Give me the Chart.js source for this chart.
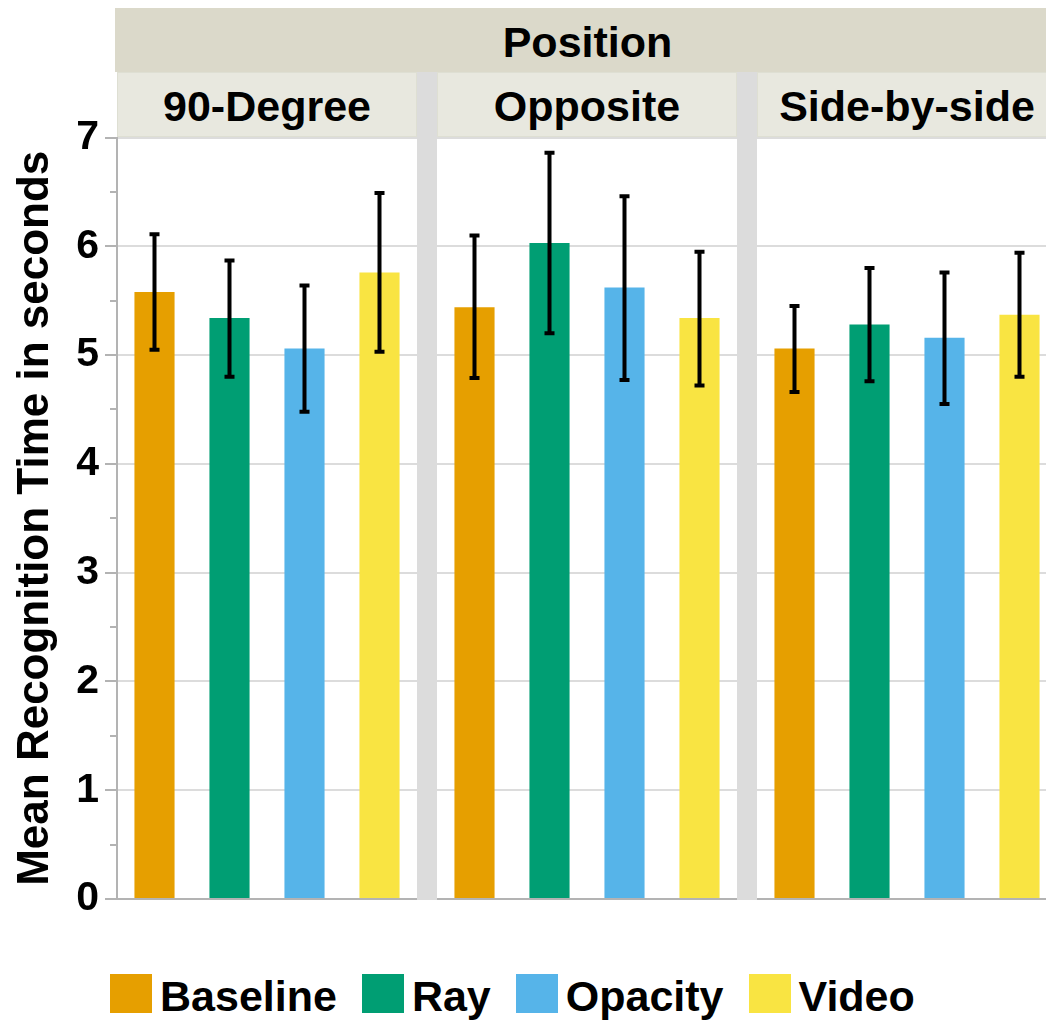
<!DOCTYPE html>
<html>
<head>
<meta charset="utf-8">
<title>Mean Recognition Time by Position</title>
<script src="https://cdn.jsdelivr.net/npm/chart.js@4.4.1/dist/chart.umd.min.js"></script>
<style>
  html, body { margin: 0; padding: 0; background: #ffffff; }
  body {
    width: 1046px; height: 1021px; overflow: hidden; position: relative;
    font-family: "Liberation Sans", Arial, Helvetica, sans-serif;
    font-weight: bold; color: #000;
  }
  .abs { position: absolute; }
  .strip {
    display: flex; align-items: center; justify-content: center;
    font-size: 43px; white-space: nowrap; box-sizing: border-box; padding-top: 4px;
  }
  .strip-outer { left: 115px; top: 8px; width: 945px; height: 64px; background: #dbd9ca; }
  .strip-panel { top: 72px; width: 300px; height: 65px; background: #e8e8df; border: 1px solid #dedfd3; }
  .gap { top: 72px; width: 20px; height: 828px; background: #dcdcdc; }
  canvas { position: absolute; top: 0; z-index: 2; }
  .legend {
    position: absolute; left: 110px; top: 975px; display: flex; align-items: flex-start;
    font-size: 43px; line-height: 43px; z-index: 3;
  }
  .legend .sw { width: 42px; height: 39px; margin-top: -1px; margin-right: 8px; }
  .legend .item { display: flex; align-items: flex-start; margin-right: 25px; }
</style>
</head>
<body>

<div class="abs strip strip-outer" id="outerStrip"></div>
<div id="panelStrips"></div>
<div class="abs gap" style="left:417px"></div>
<div class="abs gap" style="left:737px"></div>

<canvas id="panel0" width="417" height="940" style="left:0px"></canvas>
<canvas id="panel1" width="300" height="940" style="left:437px"></canvas>
<canvas id="panel2" width="300" height="940" style="left:757px"></canvas>

<div class="legend" id="legend"></div>

<script>
// ---- data ----
const facetTitle = 'Position';
const positions = ['90-Degree', 'Opposite', 'Side-by-side'];
const methods = ['Baseline', 'Ray', 'Opacity', 'Video'];

// mean recognition time (s) per position, with error-bar bounds
const baselineMean = [5.58, 5.44, 5.06];
const baselineLow  = [5.05, 4.79, 4.66];
const baselineHigh = [6.11, 6.10, 5.45];

const rayMean = [5.34, 6.03, 5.28];
const rayLow  = [4.80, 5.20, 4.76];
const rayHigh = [5.87, 6.86, 5.80];

const opacityMean = [5.06, 5.62, 5.16];
const opacityLow  = [4.48, 4.77, 4.55];
const opacityHigh = [5.64, 6.46, 5.76];

const videoMean = [5.76, 5.34, 5.37];
const videoLow  = [5.03, 4.72, 4.80];
const videoHigh = [6.49, 5.95, 5.94];

const yTickValues = [0, 1, 2, 3, 4, 5, 6, 7];
const yMinorTickValues = [0.5, 1.5, 2.5, 3.5, 4.5, 5.5, 6.5];
const yTitle = 'Mean Recognition Time in seconds';

// ---- styles ----
const methodColors = ['#E69F00', '#009E73', '#56B4E9', '#F9E442'];
const FONT = "'Liberation Sans', Arial, Helvetica, sans-serif";
const AXIS_GREY = '#b3b3b3';
const GRID_GREY = '#dcdcdc';

const meansBy = [baselineMean, rayMean, opacityMean, videoMean];
const lowsBy  = [baselineLow, rayLow, opacityLow, videoLow];
const highsBy = [baselineHigh, rayHigh, opacityHigh, videoHigh];

// ---- strips and legend ----
document.getElementById('outerStrip').textContent = facetTitle;
const stripHost = document.getElementById('panelStrips');
const stripLeft = [117, 437, 757];
positions.forEach((p, i) => {
  const d = document.createElement('div');
  d.className = 'abs strip strip-panel';
  d.style.left = stripLeft[i] + 'px';
  d.textContent = p;
  stripHost.appendChild(d);
});
const legendHost = document.getElementById('legend');
methods.forEach((m, i) => {
  const item = document.createElement('div');
  item.className = 'item';
  const sw = document.createElement('div');
  sw.className = 'sw';
  sw.style.background = methodColors[i];
  const t = document.createElement('span');
  t.textContent = m;
  item.appendChild(sw); item.appendChild(t);
  legendHost.appendChild(item);
});

// ---- plugins ----
const errorBars = {
  id: 'errorBars',
  afterDatasetsDraw(chart, args, opts) {
    const { ctx } = chart;
    const y = chart.scales.y;
    const meta = chart.getDatasetMeta(0);
    ctx.save();
    ctx.strokeStyle = '#000';
    ctx.lineWidth = 4;
    ctx.lineCap = 'butt';
    meta.data.forEach((bar, i) => {
      const yHi = y.getPixelForValue(opts.high[i]);
      const yLo = y.getPixelForValue(opts.low[i]);
      ctx.beginPath();
      ctx.moveTo(bar.x, yHi - 2);
      ctx.lineTo(bar.x, yLo + 2);
      ctx.moveTo(bar.x - 5, yHi);
      ctx.lineTo(bar.x + 5, yHi);
      ctx.moveTo(bar.x - 5, yLo);
      ctx.lineTo(bar.x + 5, yLo);
      ctx.stroke();
    });
    ctx.restore();
  }
};

const minorTicks = {
  id: 'minorTicks',
  afterDraw(chart, args, opts) {
    if (!opts.show) return;
    const { ctx } = chart;
    const y = chart.scales.y;
    ctx.save();
    ctx.strokeStyle = AXIS_GREY;
    ctx.lineWidth = 2;
    yMinorTickValues.forEach(v => {
      const py = Math.round(y.getPixelForValue(v));
      ctx.beginPath();
      ctx.moveTo(y.right - 7, py);
      ctx.lineTo(y.right, py);
      ctx.stroke();
    });
    ctx.restore();
  }
};

// ---- charts ----
function makePanel(canvasId, p, withAxis) {
  const data = meansBy.map(s => s[p]);
  const low = lowsBy.map(s => s[p]);
  const high = highsBy.map(s => s[p]);
  return new Chart(document.getElementById(canvasId), {
    type: 'bar',
    data: {
      labels: methods,
      datasets: [{
        label: positions[p],
        data: data,
        backgroundColor: methodColors,
        borderWidth: 0,
        barPercentage: 0.535,
        categoryPercentage: 1.0
      }]
    },
    options: {
      responsive: false,
      animation: false,
      devicePixelRatio: 1,
      events: [],
      layout: { padding: { top: 137.5, bottom: 41, left: 0, right: 0 } },
      plugins: {
        legend: { display: false },
        tooltip: { enabled: false },
        errorBars: { low: low, high: high },
        minorTicks: { show: withAxis }
      },
      scales: {
        x: {
          type: 'category',
          offset: true,
          ticks: { display: false },
          grid: { display: false, drawTicks: false },
          border: { display: true, color: AXIS_GREY, width: 2 },
          afterFit(scale) { scale.height = 0; }
        },
        y: {
          min: 0, max: 7,
          afterBuildTicks(scale) { scale.ticks = yTickValues.map(v => ({ value: v })); },
          ticks: {
            display: withAxis,
            color: '#000',
            padding: 6,
            font: { family: FONT, size: 41, weight: 'bold' }
          },
          grid: {
            color: GRID_GREY,
            lineWidth: 2,
            drawTicks: withAxis,
            tickLength: 12,
            tickWidth: 2,
            tickColor: AXIS_GREY
          },
          border: { display: withAxis, color: AXIS_GREY, width: 2 },
          title: {
            display: withAxis,
            text: yTitle,
            color: '#000',
            font: { family: FONT, size: 44, weight: 'bold', lineHeight: 1.2 },
            padding: { top: 9, bottom: 0 }
          },
          afterFit(scale) { scale.width = withAxis ? 117 : 0; }
        }
      }
    },
    plugins: [errorBars, minorTicks]
  });
}

makePanel('panel0', 0, true);
makePanel('panel1', 1, false);
makePanel('panel2', 2, false);
</script>
</body>
</html>
